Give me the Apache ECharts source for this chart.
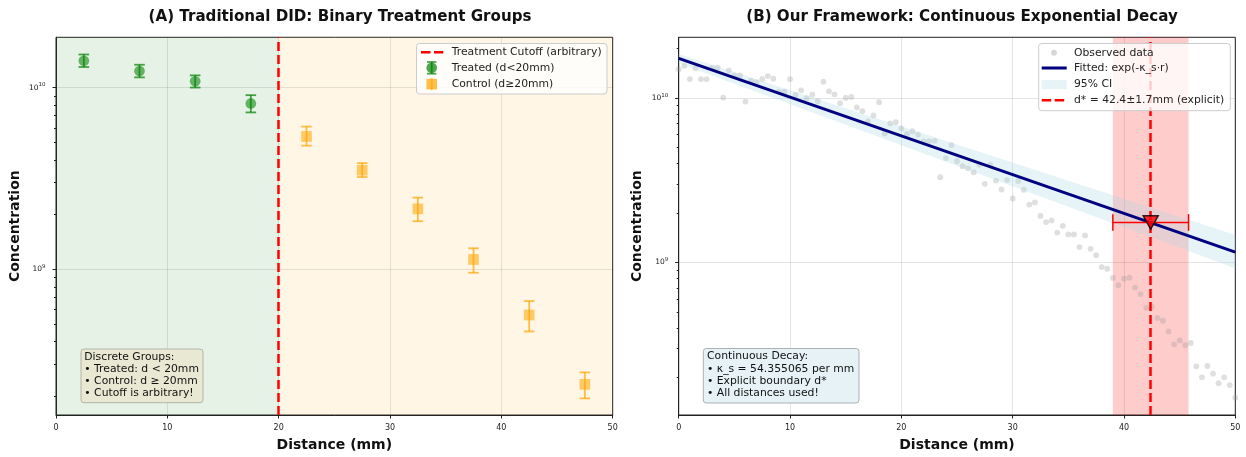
<!DOCTYPE html>
<html>
<head>
<meta charset="utf-8">
<script src="https://cdn.jsdelivr.net/npm/echarts@6/dist/echarts.min.js"></script>
<style>html,body{margin:0;padding:0;background:#fff;}#c{width:1246px;height:457px;}</style>
</head>
<body>
<div id="c"></div>
<script>
// ---------- data ----------
const xTicks = [0, 10, 20, 30, 40, 50];
const yMajorTicks = [1e9, 1e10];
const yMinorTicksA = [2e8,3e8,4e8,5e8,6e8,7e8,8e8,9e8,2e9,3e9,4e9,5e9,6e9,7e9,8e9,9e9];
const yMinorTicksB = [2e8,3e8,4e8,5e8,6e8,7e8,8e8,9e8,2e9,3e9,4e9,5e9,6e9,7e9,8e9,9e9,2e10];

const treatedX  = [2.5, 7.5, 12.5, 17.5];
const treatedY  = [1.404e10, 1.233e10, 1.082e10, 8.18e9];
const treatedLo = [1.297e10, 1.138e10, 1.0e10, 7.3e9];
const treatedHi = [1.52e10, 1.335e10, 1.167e10, 9.08e9];

const controlX  = [22.5, 27.5, 32.5, 37.5, 42.5, 47.5];
const controlY  = [5.38e9, 3.51e9, 2.15e9, 1.133e9, 5.61e8, 2.33e8];
const controlLo = [4.79e9, 3.22e9, 1.84e9, 9.58e8, 4.55e8, 1.95e8];
const controlHi = [6.10e9, 3.84e9, 2.48e9, 1.306e9, 6.69e8, 2.71e8];

const cutoff = 20;

const obsX = [0,0.5,1,1.5,2,2.5,3,3.5,4,4.5,5,5.5,6,6.5,7,7.5,8,8.5,9,9.5,
  10,10.5,11,11.5,12,12.5,13,13.5,14,14.5,15,15.5,16,16.5,17,17.5,18,18.5,19,19.5,
  20,20.5,21,21.5,22,22.5,23,23.5,24,24.5,25,25.5,26,26.5,27,27.5,28,28.5,29,29.5,
  30,30.5,31,31.5,32,32.5,33,33.5,34,34.5,35,35.5,36,36.5,37,37.5,38,38.5,39,39.5,
  40,40.5,41,41.5,42,42.5,43,43.5,44,44.5,45,45.5,46,46.5,47,47.5,48,48.5,49,49.5,50];
const obsY = [
  1.502e10, 1.573e10, 1.308e10, 1.523e10, 1.308e10, 1.308e10, 1.536e10, 1.536e10, 1.008e10, 1.474e10,
  1.375e10, 1.375e10, 9.54e9, 1.277e10, 1.254e10, 1.308e10, 1.364e10, 1.313e10, 1.096e10, 1.096e10,
  1.308e10, 1.047e10, 1.116e10, 9.99e9, 1.051e10, 9.58e9, 1.259e10, 1.101e10, 1.056e10, 9.32e9,
  1.004e10, 1.018e10, 8.78e9, 8.34e9, 7.22e9, 7.85e9, 9.45e9, 6.09e9, 7.03e9, 7.15e9,
  6.55e9, 6.06e9, 6.29e9, 6.00e9, 5.45e9, 5.47e9, 5.50e9, 3.30e9, 4.32e9, 5.18e9,
  4.13e9, 3.85e9, 3.74e9, 3.54e9, 3.94e9, 3.01e9, 3.94e9, 3.15e9, 2.78e9, 3.17e9,
  2.45e9, 3.13e9, 2.77e9, 2.25e9, 2.32e9, 1.92e9, 1.76e9, 1.80e9, 1.52e9, 1.67e9,
  1.48e9, 1.48e9, 1.24e9, 1.46e9, 1.21e9, 1.107e9, 9.37e8, 9.15e8, 8.04e8, 7.26e8,
  7.96e8, 8.07e8, 7.03e8, 6.41e8, 5.28e8, 5.35e8, 4.59e8, 4.42e8, 3.80e8, 3.17e8,
  3.35e8, 3.13e8, 3.23e8, 2.33e8, 1.995e8, 2.34e8, 2.10e8, 1.84e8, 1.995e8, 1.79e8,
  1.50e8];

const fitX = [0, 50];
const fitY = [1.748e10, 1.154e9];
const bandX = [0, 50];
const bandUpper = [1.86e10, 1.47e9];
const bandLower = [1.63e10, 9.2e8];

const dStar = 42.4, dStarLo = 39.0, dStarHi = 45.8, dStarY = 1.75e9;

// ---------- helpers ----------
const FF = 'DejaVu Sans';
const TXT = '#222';
const LEG_FONT = '10.8px "DejaVu Sans"';

function vErr(color, lw, capHalf) {
  return function (params, api) {
    const x = api.value(0), lo = api.value(2), hi = api.value(3);
    const a = api.coord([x, lo]), b = api.coord([x, hi]);
    const st = {stroke: color, lineWidth: lw};
    return {type: 'group', children: [
      {type: 'line', shape: {x1: a[0], y1: a[1], x2: b[0], y2: b[1]}, style: st},
      {type: 'line', shape: {x1: a[0]-capHalf, y1: a[1], x2: a[0]+capHalf, y2: a[1]}, style: st},
      {type: 'line', shape: {x1: b[0]-capHalf, y1: b[1], x2: b[0]+capHalf, y2: b[1]}, style: st}
    ]};
  };
}
function hErr(color, lw, capHalf) {
  return function (params, api) {
    const y = api.value(1), lo = api.value(2), hi = api.value(3);
    const a = api.coord([lo, y]), b = api.coord([hi, y]);
    const st = {stroke: color, lineWidth: lw};
    return {type: 'group', children: [
      {type: 'line', shape: {x1: a[0], y1: a[1], x2: b[0], y2: b[1]}, style: st},
      {type: 'line', shape: {x1: a[0], y1: a[1]-capHalf, x2: a[0], y2: a[1]+capHalf}, style: st},
      {type: 'line', shape: {x1: b[0], y1: b[1]-capHalf, x2: b[0], y2: b[1]+capHalf}, style: st}
    ]};
  };
}
function bandRender(params, api) {
  if (params.dataIndex !== 0) return null;
  const up = [], lo = [];
  for (let i = 0; i < bandX.length; i++) {
    up.push(api.coord([bandX[i], bandUpper[i]]));
    lo.unshift(api.coord([bandX[i], bandLower[i]]));
  }
  return {type: 'polygon', shape: {points: up.concat(lo)}, style: {fill: 'rgba(173,216,230,0.3)'}};
}
function powLabel(v) {
  v = Number(v);
  const e = Math.round(Math.log10(v));
  if (Math.abs(v - Math.pow(10, e)) / v < 1e-6) return '{b|10}{s|' + e + '}';
  return '';
}

function xAxisCfg(gi) {
  return {
    gridIndex: gi, type: 'value', min: 0, max: 50, interval: 10,
    name: 'Distance (mm)', nameLocation: 'middle', nameGap: 23,
    nameTextStyle: {fontFamily: FF, fontSize: 14, fontWeight: 'bold', color: '#111'},
    axisLine: {show: true, lineStyle: {color: '#222', width: 1}},
    axisTick: {show: true, inside: false, length: 3.5, lineStyle: {color: '#222'}},
    axisLabel: {fontFamily: FF, fontSize: 8, color: TXT, margin: 9},
    splitLine: {show: true, lineStyle: {color: 'rgba(0,0,0,0.1)', width: 1}}
  };
}
function yAxisCfg(gi, mn, mx) {
  return {
    gridIndex: gi, type: 'log', logBase: 10, min: mn, max: mx,
    name: 'Concentration', nameLocation: 'middle', nameGap: 34,
    nameTextStyle: {fontFamily: FF, fontSize: 14, fontWeight: 'bold', color: '#111'},
    axisLine: {show: true, lineStyle: {color: '#222', width: 1}},
    axisTick: {show: true, inside: false, length: 3.5, lineStyle: {color: '#222'}, customValues: yMajorTicks},
    axisLabel: {
      customValues: yMajorTicks, formatter: powLabel, margin: 10.5,
      rich: {
        b: {fontFamily: FF, fontSize: 7.5, color: TXT},
        s: {fontFamily: FF, fontSize: 5.5, color: TXT, padding: [0, 0, 5, 0]}
      }
    },
    splitLine: {show: true, lineStyle: {color: 'rgba(0,0,0,0.1)', width: 1}}
  };
}
function yMinorCfg(gi, mn, mx, vals) {
  return {
    gridIndex: gi, type: 'log', logBase: 10, min: mn, max: mx, position: 'left', offset: 0,
    axisLine: {show: false},
    axisTick: {show: true, inside: false, length: 2, lineStyle: {color: '#222'}, customValues: vals},
    axisLabel: {show: false}, splitLine: {show: false}
  };
}

const option = {
  animation: false,
  backgroundColor: '#fff',
  title: [
    {text: '(A) Traditional DID: Binary Treatment Groups', left: 335, top: 5, textAlign: 'center', padding: 5,
     textStyle: {fontFamily: FF, fontSize: 15.1, fontWeight: 'bold', color: '#111'}},
    {text: '(B) Our Framework: Continuous Exponential Decay', left: 957, top: 5, textAlign: 'center', padding: 5,
     textStyle: {fontFamily: FF, fontSize: 15.1, fontWeight: 'bold', color: '#111'}}
  ],
  grid: [
    {left: 56, top: 37.3, width: 556.7, height: 381, show: true, borderColor: '#222', borderWidth: 1, backgroundColor: 'transparent'},
    {left: 678.7, top: 37.3, width: 556.6, height: 381, show: true, borderColor: '#222', borderWidth: 1, backgroundColor: 'transparent'}
  ],
  xAxis: [xAxisCfg(0), xAxisCfg(1)],
  yAxis: [
    yAxisCfg(0, 1.58e8, 1.89e10),
    yAxisCfg(1, 1.177e8, 2.348e10),
    yMinorCfg(0, 1.58e8, 1.89e10, yMinorTicksA),
    yMinorCfg(1, 1.177e8, 2.348e10, yMinorTicksB)
  ],
  series: [
    // ----- panel A -----
    {type: 'line', xAxisIndex: 0, yAxisIndex: 0, data: [], z: 1, silent: true,
     markArea: {silent: true, data: [
       [{xAxis: 0, itemStyle: {color: 'rgba(0,128,0,0.1)'}}, {xAxis: cutoff}],
       [{xAxis: cutoff, itemStyle: {color: 'rgba(255,165,0,0.1)'}}, {xAxis: 50}]
     ]}},
    {type: 'line', xAxisIndex: 0, yAxisIndex: 0, data: [], z: 6, silent: true,
     markLine: {silent: true, symbol: 'none', label: {show: false},
       lineStyle: {color: '#ff0000', width: 2.5, type: [9, 4]},
       data: [{xAxis: cutoff}]}},
    {type: 'custom', xAxisIndex: 0, yAxisIndex: 0, z: 3,
     renderItem: vErr('rgba(0,128,0,0.7)', 1.8, 5.3),
     data: treatedX.map((x, i) => [x, treatedY[i], treatedLo[i], treatedHi[i]])},
    {type: 'scatter', xAxisIndex: 0, yAxisIndex: 0, z: 4, symbol: 'circle', symbolSize: 10.7,
     itemStyle: {color: 'rgba(0,128,0,0.7)'},
     data: treatedX.map((x, i) => [x, treatedY[i]])},
    {type: 'custom', xAxisIndex: 0, yAxisIndex: 0, z: 3,
     renderItem: vErr('rgba(255,165,0,0.7)', 1.8, 5.3),
     data: controlX.map((x, i) => [x, controlY[i], controlLo[i], controlHi[i]])},
    {type: 'scatter', xAxisIndex: 0, yAxisIndex: 0, z: 4, symbol: 'rect', symbolSize: 10.7,
     itemStyle: {color: 'rgba(255,165,0,0.7)'},
     data: controlX.map((x, i) => [x, controlY[i]])},
    // ----- panel B -----
    {type: 'scatter', xAxisIndex: 1, yAxisIndex: 1, z: 2, symbol: 'circle', symbolSize: 5.8,
     itemStyle: {color: 'rgba(150,150,150,0.38)'},
     data: obsX.map((x, i) => [x, obsY[i]])},
    {type: 'custom', xAxisIndex: 1, yAxisIndex: 1, z: 3, renderItem: bandRender,
     data: bandX.map((x, i) => [x, bandLower[i], bandUpper[i]])},
    {type: 'line', xAxisIndex: 1, yAxisIndex: 1, data: [], z: 3, silent: true,
     markArea: {silent: true, data: [
       [{xAxis: dStarLo, itemStyle: {color: 'rgba(255,0,0,0.2)'}}, {xAxis: dStarHi}]
     ]}},
    {type: 'line', xAxisIndex: 1, yAxisIndex: 1, z: 4, symbol: 'none', clip: true,
     lineStyle: {color: '#000080', width: 3},
     data: fitX.map((x, i) => [x, fitY[i]])},
    {type: 'line', xAxisIndex: 1, yAxisIndex: 1, data: [], z: 5, silent: true,
     markLine: {silent: true, symbol: 'none', label: {show: false},
       lineStyle: {color: '#ff0000', width: 2.5, type: [9, 4]},
       data: [{xAxis: dStar}]}},
    {type: 'custom', xAxisIndex: 1, yAxisIndex: 1, z: 6,
     renderItem: hErr('#ff0000', 1.5, 8.3),
     data: [[dStar, dStarY, dStarLo, dStarHi]]},
    {type: 'scatter', xAxisIndex: 1, yAxisIndex: 1, z: 7, symbol: 'triangle', symbolRotate: 180,
     symbolSize: [15, 13.5],
     itemStyle: {color: '#ff0000', borderColor: '#000', borderWidth: 1.5},
     data: [[dStar, dStarY]]}
  ],
  graphic: [
    // legend A
    {type: 'rect', shape: {x: 416.5, y: 43.5, width: 190.5, height: 50.5, r: 3},
     style: {fill: 'rgba(255,255,255,0.8)', stroke: '#cccccc', lineWidth: 1}, z: 100},
    {type: 'line', shape: {x1: 421, y1: 52.3, x2: 443.3, y2: 52.3},
     style: {stroke: '#ff0000', lineWidth: 2.5, lineDash: [9.5, 3.5]}, z: 101},
    {type: 'line', shape: {x1: 431.7, y1: 62, x2: 431.7, y2: 73.7}, style: {stroke: 'rgba(0,128,0,0.7)', lineWidth: 1.8}, z: 101},
    {type: 'line', shape: {x1: 427, y1: 62, x2: 436.4, y2: 62}, style: {stroke: 'rgba(0,128,0,0.7)', lineWidth: 1.8}, z: 101},
    {type: 'line', shape: {x1: 427, y1: 73.7, x2: 436.4, y2: 73.7}, style: {stroke: 'rgba(0,128,0,0.7)', lineWidth: 1.8}, z: 101},
    {type: 'circle', shape: {cx: 431.7, cy: 67.8, r: 5.3}, style: {fill: 'rgba(0,128,0,0.7)'}, z: 102},
    {type: 'line', shape: {x1: 431.7, y1: 78.3, x2: 431.7, y2: 90}, style: {stroke: 'rgba(255,165,0,0.7)', lineWidth: 1.8}, z: 101},
    {type: 'rect', shape: {x: 426.4, y: 78.8, width: 10.6, height: 10.6}, style: {fill: 'rgba(255,165,0,0.7)'}, z: 102},
    {type: 'text', x: 451.7, y: 52.3, style: {text: 'Treatment Cutoff (arbitrary)', font: LEG_FONT, fill: TXT, verticalAlign: 'middle'}, z: 103},
    {type: 'text', x: 451.7, y: 68, style: {text: 'Treated (d<20mm)', font: LEG_FONT, fill: TXT, verticalAlign: 'middle'}, z: 103},
    {type: 'text', x: 451.7, y: 84, style: {text: 'Control (d≥20mm)', font: LEG_FONT, fill: TXT, verticalAlign: 'middle'}, z: 103},
    // legend B
    {type: 'rect', shape: {x: 1038.7, y: 43.5, width: 191.6, height: 67.2, r: 3},
     style: {fill: 'rgba(255,255,255,0.8)', stroke: '#cccccc', lineWidth: 1}, z: 100},
    {type: 'circle', shape: {cx: 1054, cy: 52.7, r: 2.9}, style: {fill: 'rgba(150,150,150,0.38)'}, z: 101},
    {type: 'line', shape: {x1: 1041.7, y1: 68, x2: 1066.7, y2: 68}, style: {stroke: '#000080', lineWidth: 3}, z: 101},
    {type: 'rect', shape: {x: 1041.7, y: 80, width: 25, height: 9}, style: {fill: 'rgba(173,216,230,0.3)'}, z: 101},
    {type: 'line', shape: {x1: 1041.7, y1: 100.3, x2: 1066.7, y2: 100.3},
     style: {stroke: '#ff0000', lineWidth: 2.5, lineDash: [9.5, 3.5]}, z: 101},
    {type: 'text', x: 1074, y: 52.7, style: {text: 'Observed data', font: LEG_FONT, fill: TXT, verticalAlign: 'middle'}, z: 103},
    {type: 'text', x: 1074, y: 68.3, style: {text: 'Fitted: exp(-κ_s·r)', font: LEG_FONT, fill: TXT, verticalAlign: 'middle'}, z: 103},
    {type: 'text', x: 1074, y: 84.3, style: {text: '95% CI', font: LEG_FONT, fill: TXT, verticalAlign: 'middle'}, z: 103},
    {type: 'text', x: 1074, y: 100.5, style: {text: 'd* = 42.4±1.7mm (explicit)', font: LEG_FONT, fill: TXT, verticalAlign: 'middle'}, z: 103},
    // text box A
    {type: 'rect', shape: {x: 81, y: 349, width: 122, height: 53.7, r: 3},
     style: {fill: '#e9e8d3', stroke: '#b4b4a6', lineWidth: 1}, z: 100},
    {type: 'text', x: 84.3, y: 350.9, style: {text: 'Discrete Groups:\n• Treated: d < 20mm\n• Control: d ≥ 20mm\n• Cutoff is arbitrary!',
      font: LEG_FONT, fill: '#111', lineHeight: 12.15, verticalAlign: 'top'}, z: 101},
    // text box B
    {type: 'rect', shape: {x: 703.3, y: 348.5, width: 155.7, height: 54.5, r: 3},
     style: {fill: '#e6f2f6', stroke: '#a9b2b5', lineWidth: 1}, z: 100},
    {type: 'text', x: 707, y: 350.6, style: {text: 'Continuous Decay:\n• κ_s = 54.355065 per mm\n• Explicit boundary d*\n• All distances used!',
      font: LEG_FONT, fill: '#111', lineHeight: 12.15, verticalAlign: 'top'}, z: 101}
  ]
};

const chart = echarts.init(document.getElementById('c'), null, {renderer: 'canvas'});
chart.setOption(option);
</script>
</body>
</html>
